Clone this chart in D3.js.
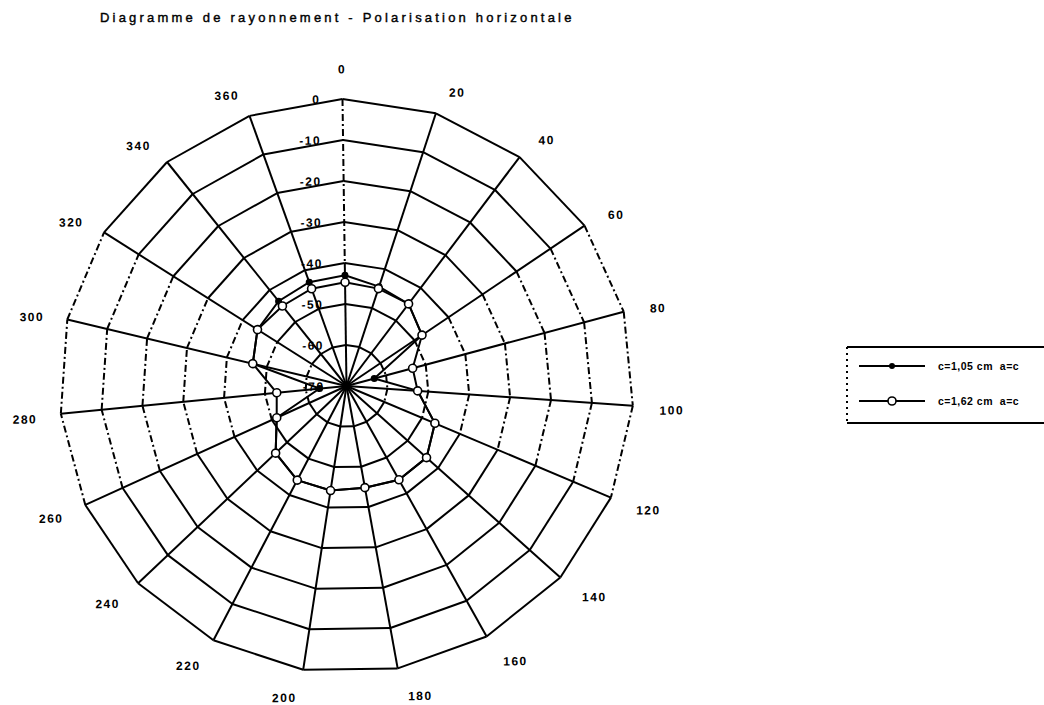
<!DOCTYPE html>
<html><head><meta charset="utf-8">
<script src="https://cdn.jsdelivr.net/npm/d3@7"></script>
<style>
html,body{margin:0;padding:0;background:#fff;}
text{font-family:"Liberation Sans",Arial,sans-serif;fill:#000;}
</style></head>
<body>
<svg id="chart" width="1044" height="705"></svg>
<script>
// ---- data ----
const categories = ["0","20","40","60","80","100","120","140","160","180","200","220","240","260","280","300","320","340","360"];
const seriesNames = ["c=1,05 cm  a=c", "c=1,62 cm  a=c"];
const seriesA = [-43.0,-44.5,-44.9,-47.8,-63.0,-52.6,-46.6,-43.8,-43.8,-44.8,-44.2,-44.1,-46.2,-51.3,-63.4,-46.5,-44.3,-43.5,-43.1];
const seriesB = [-44.7,-45.0,-44.9,-47.8,-53.3,-52.6,-46.6,-43.8,-43.8,-44.8,-44.2,-44.1,-46.2,-51.3,-52.9,-46.5,-44.3,-45.0,-44.8];
const radialTicks = [0,-10,-20,-30,-40,-50,-60,-70];
const title = "Diagramme de rayonnement - Polarisation horizontale";

const svg = d3.select("#chart");
const cx = 346.5, cy = 386, R = 287;
const n = categories.length;
const r = d3.scaleLinear().domain([-70,0]).range([0,R]);
const ang = d3.scaleLinear().domain([0,n]).range([0,2*Math.PI]);
const pt = (i,v) => [cx + r(v)*Math.sin(ang(i)), cy - r(v)*Math.cos(ang(i))];

// title
svg.append("text").attr("x",100).attr("y",22)
  .style("font-size","13px").style("letter-spacing","3.2px")
  .attr("stroke","#000").attr("stroke-width",0.4)
  .text(title);

const polar = svg.append("g").attr("transform",`rotate(-0.8,${cx},${cy})`);
const grid = polar.append("g").attr("stroke","#000").attr("stroke-width",2).attr("fill","none");
// rings
const levels = radialTicks.filter(d=>d>-70);
levels.forEach(lv=>{
  for(let i=0;i<n;i++){
    const a = pt(i,lv), b = pt((i+1)%n,lv);
    const mid = (ang(i)+ang(i+1))/2;
    const vert = Math.abs(Math.sin(mid)) > 0.9;
    grid.append("line").attr("x1",a[0]).attr("y1",a[1]).attr("x2",b[0]).attr("y2",b[1])
      .attr("stroke-dasharray", vert ? "7,3,2,3" : null);
  }
});
// spokes
for(let i=0;i<n;i++){
  const a = pt(i,0);
  if(i===0){
    const m = pt(0,-40);
    grid.append("line").attr("x1",a[0]).attr("y1",a[1]).attr("x2",m[0]).attr("y2",m[1]).attr("stroke-dasharray","7,3,2,3");
    grid.append("line").attr("x1",m[0]).attr("y1",m[1]).attr("x2",cx).attr("y2",cy);
  } else {
    grid.append("line").attr("x1",cx).attr("y1",cy).attr("x2",a[0]).attr("y2",a[1]);
  }
}
polar.append("circle").attr("cx",cx).attr("cy",cy).attr("r",4).attr("fill","#000");

// radial tick labels
polar.append("g").selectAll("text").data(radialTicks).join("text")
  .attr("x",cx-22).attr("y",d=>cy-r(d)).attr("dy","0.36em")
  .attr("text-anchor","end")
  .style("font-size","12px").style("font-weight","bold").style("letter-spacing","1.5px")
  .text(d=>d);

// category labels
const lab = polar.append("g");
categories.forEach((c,i)=>{
  const s = Math.sin(ang(i)), co = Math.cos(ang(i));
  const v = pt(i,0);
  const w = c.length*8, h = 10, g = 20;
  const sx = Math.abs(s)<1e-6 ? 0 : Math.sign(s);
  const extra = s>0.01 ? 7 : (s<-0.01 ? -4 : 0);
  const x = v[0] + g*s + sx*w/2 + extra;
  const y = v[1] - g*co - co*h/2 + 3 + (sx===0 ? -8 : 0);
  lab.append("text").attr("x",x).attr("y",y).attr("dy","0.36em").attr("text-anchor","middle")
    .style("font-size","12px").style("font-weight","bold").style("letter-spacing","1.5px")
    .text(c);
});

// series
const line = d3.line().x(d=>d[0]).y(d=>d[1]).curve(d3.curveLinearClosed);
const ptsA = seriesA.map((v,i)=>pt(i,v));
const ptsB = seriesB.map((v,i)=>pt(i,v));
polar.append("path").attr("d",line(ptsA)).attr("fill","none").attr("stroke","#000").attr("stroke-width",2);
polar.append("path").attr("d",line(ptsB)).attr("fill","none").attr("stroke","#000").attr("stroke-width",2);
polar.append("g").selectAll("circle").data(ptsA).join("circle")
  .attr("cx",d=>d[0]).attr("cy",d=>d[1]).attr("r",3.5).attr("fill","#000");
polar.append("g").selectAll("circle").data(ptsB).join("circle")
  .attr("cx",d=>d[0]).attr("cy",d=>d[1]).attr("r",4).attr("fill","#fff").attr("stroke","#000").attr("stroke-width",1.6);

// legend
const lg = svg.append("g");
const lx = 847, ly = 347, lw = 210, lh = 76;
lg.append("line").attr("x1",lx).attr("y1",ly).attr("x2",lx+lw).attr("y2",ly).attr("stroke","#000").attr("stroke-width",2);
lg.append("line").attr("x1",lx).attr("y1",ly+lh).attr("x2",lx+lw).attr("y2",ly+lh).attr("stroke","#000").attr("stroke-width",2);
lg.append("line").attr("x1",lx).attr("y1",ly).attr("x2",lx).attr("y2",ly+lh).attr("stroke","#000").attr("stroke-width",2).attr("stroke-dasharray","2,4");
const ent = [{name:seriesNames[0],filled:true,y:ly+19},{name:seriesNames[1],filled:false,y:ly+54}];
ent.forEach(e=>{
  lg.append("line").attr("x1",lx+12).attr("y1",e.y).attr("x2",lx+78).attr("y2",e.y).attr("stroke","#000").attr("stroke-width",2);
  if(e.filled) lg.append("circle").attr("cx",lx+45).attr("cy",e.y).attr("r",3).attr("fill","#000");
  else lg.append("circle").attr("cx",lx+45).attr("cy",e.y).attr("r",4).attr("fill","#fff").attr("stroke","#000").attr("stroke-width",1.6);
  lg.append("text").attr("x",lx+91).attr("y",e.y).attr("dy","0.36em")
    .style("font-size","10.5px").style("font-weight","bold").style("letter-spacing","0.5px")
    .attr("xml:space","preserve").style("white-space","pre")
    .text(e.name);
});
</script>
</body></html>
